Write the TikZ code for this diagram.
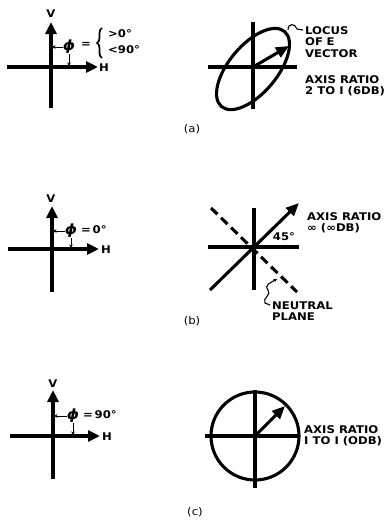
\documentclass[tikz,border=0pt]{standalone}
\usepackage{fontspec}
\setmainfont{DejaVu Sans}[FakeStretch=1.1]
\usetikzlibrary{arrows.meta,decorations.pathreplacing}
\tikzset{
  axis/.style={line width=3.1pt},
  axarrow/.style={line width=3.1pt,-{Triangle[length=12pt,width=11pt]}},
  vec/.style={line width=3.1pt,-{Triangle[length=13pt,width=11pt]}},
  curve/.style={line width=3.1pt},
  lbl/.style={font=\bfseries\fontsize{10.6}{12}\selectfont,inner sep=0pt},
  txt/.style={font=\bfseries\fontsize{10.6}{11.5}\selectfont,inner sep=0pt,anchor=west,align=left},
  phis/.style={font=\bfseries\itshape\fontsize{14}{14}\selectfont,inner sep=0pt},
  tick/.style={line width=1pt,-{Stealth[length=3.5pt,width=3.5pt]}},
  thin/.style={line width=1.1pt}
}
\begin{document}
\begin{tikzpicture}[x=1pt,y=-1pt]
\useasboundingbox (0,0) rectangle (384,520);
% ---------- (a) left axes
\coordinate (aO) at (51,67);
\coordinate (aT) at (51,22);
\coordinate (aB) at (51,108);
\coordinate (aL) at (7,67);
\coordinate (aR) at (98,67);
\draw[axis] (aB) -- (aO);
\draw[axarrow] (aO) -- (aT);
\draw[axis] (aL) -- (aO);
\draw[axarrow] (aO) -- (aR);
\node[lbl] (aV) at (51,14) {V};
\node[lbl] (aH) at (104,68) {H};
\node[phis] (aphi) at (69,47) {ϕ};
\coordinate (aphiax) at (52,47);
\coordinate (aphih) at (69,66);
\draw[tick] (aphi.west) -- (aphiax);
\draw[tick] (aphi.south) -- (aphih);
\node[lbl] (aeq) at (86,45) {=};
\draw[line width=1.7pt,decorate,decoration={brace,amplitude=5pt}] (102,58) -- (102,28);
\node[txt] (agt) at (108,34) {>0°};
\node[txt] (alt) at (108,50) {<90°};
% ---------- (a) right
\coordinate (AO) at (253,67);
\draw[axis] (253,22) -- (253,109);
\draw[axis] (208,67) -- (297,67);
\draw[curve,rotate around={50:(253,69)}] (253,69) ellipse [x radius=49, y radius=24];
\coordinate (Atip) at (289,46);
\draw[vec] (AO) -- (Atip);
\coordinate (Alead) at (288,30);
\node[txt] (locus) at (305,42) {LOCUS\\OF\,\,E\\VECTOR};
\draw[thin] (Alead) .. controls (288,23) and (295,23) .. (297,29) -- (303,30);
\node[txt] (Aaxis) at (305,86) {AXIS RATIO\\2 TO I (6DB)};
\node[lbl,font=\fontsize{10.6}{12}\selectfont] (alab) at (192,129) {(a)};
% ---------- (b) left axes
\coordinate (bO) at (52,249);
\draw[axis] (52,292) -- (bO);
\draw[axarrow] (bO) -- (52,206);
\draw[axis] (8,249) -- (bO);
\draw[axarrow] (bO) -- (99,249);
\node[lbl] (bV) at (51,199) {V};
\node[lbl] (bH) at (106,250) {H};
\node[phis] (bphi) at (71,231) {ϕ};
\coordinate (bphiax) at (53,231);
\coordinate (bphih) at (71,248);
\draw[tick] (bphi.west) -- (bphiax);
\draw[tick] (bphi.south) -- (bphih);
\node[txt] (beq) at (81,230) {=\,0°};
% ---------- (b) right
\coordinate (BO) at (254,247);
\draw[axis] (254,208) -- (254,290);
\draw[axis] (208,247) -- (299,247);
\draw[axis,dash pattern=on 9pt off 5pt] (211,208) -- (297,292);
\coordinate (BLL) at (210,290);
\coordinate (Btip) at (299,203);
\draw[axis] (BLL) -- (BO);
\draw[vec] (BO) -- (Btip);
\node[lbl] (b45) at (284,237) {45°};
\node[txt] (Baxis) at (307,223) {AXIS RATIO\\∞ (∞DB)};
\node[txt] (neutral) at (272,311) {NEUTRAL\\PLANE};
\coordinate (Bsq) at (277,279);
\draw[thin,{Stealth[length=3.5pt,width=3.5pt]}-] (Bsq) .. controls (270,283) and (264,285) .. (268,290) .. controls (272,295) and (262,298) .. (265,303) -- (270,305);
\node[lbl,font=\fontsize{10.6}{12}\selectfont] (blab) at (192,321) {(b)};
% ---------- (c) left axes
\coordinate (cO) at (53,436);
\draw[axis] (53,479) -- (cO);
\draw[axarrow] (cO) -- (53,390);
\draw[axis] (10,436) -- (cO);
\draw[axarrow] (cO) -- (100,436);
\node[lbl] (cV) at (53,384) {V};
\node[lbl] (cH) at (107,437) {H};
\node[phis] (cphi) at (73,416) {ϕ};
\coordinate (cphiax) at (54,416);
\coordinate (cphih) at (73,435);
\draw[tick] (cphi.west) -- (cphiax);
\draw[tick] (cphi.south) -- (cphih);
\node[txt] (ceq) at (83,415) {=\,90°};
% ---------- (c) right
\coordinate (CO) at (255,436);
\draw[axis] (255,390) -- (255,488);
\draw[axis] (205,436) -- (300,436);
\draw[curve] (CO) circle [radius=44];
\coordinate (Ctip) at (285,406);
\draw[vec] (CO) -- (Ctip);
\node[txt] (Caxis) at (304,436) {AXIS RATIO\\I TO I (ODB)};
\node[lbl,font=\fontsize{10.6}{12}\selectfont] (clab) at (195,512) {(c)};
\end{tikzpicture}
\end{document}
